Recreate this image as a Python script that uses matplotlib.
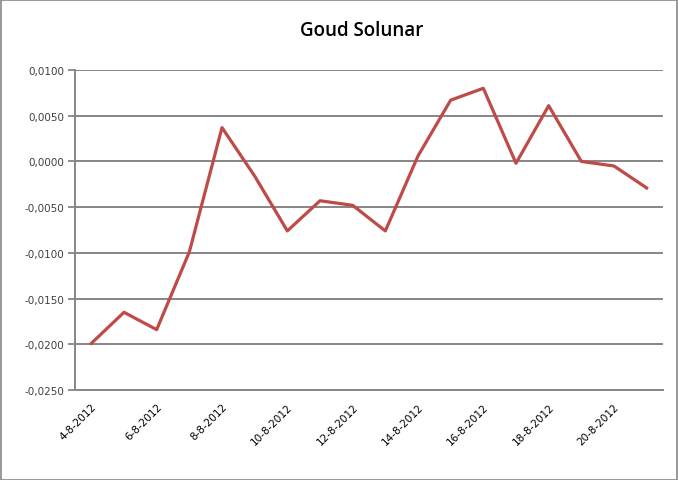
import matplotlib.pyplot as plt
from matplotlib.patches import Rectangle
from matplotlib.ticker import FuncFormatter
import numpy as np

# daily values, 4-8-2012 .. 21-8-2012
dates = ["%d-8-2012" % d for d in range(4, 22)]
values = [-0.0199, -0.0165, -0.0184, -0.0099, 0.0037, -0.0016,
          -0.0076, -0.0043, -0.0048, -0.0076, 0.0006, 0.0067,
          0.0080, -0.0002, 0.0061, 0.0000, -0.0005, -0.0029]
yticks = [-0.025, -0.02, -0.015, -0.01, -0.005, 0.0, 0.005, 0.01]
title = "Goud Solunar"

grey = "#868686"
red = "#BE4B48"

fig = plt.figure(figsize=(6.78, 4.81), dpi=100)
ax = fig.add_axes([75 / 678, 1 - 391 / 481, 588 / 678, 320 / 481])

x = np.arange(len(dates))
ax.plot(x, values, color=red, lw=2.3, solid_joinstyle="round", zorder=3)

ax.set_xlim(-0.5, len(dates) - 0.5)
ax.set_ylim(yticks[0], yticks[-1])
ax.set_yticks(yticks)
ax.yaxis.set_major_formatter(FuncFormatter(lambda v, p: ("%.4f" % v).replace(".", ",").replace("-0,0000", "0,0000")))
ax.set_xticks(x[::2])
ax.set_xticklabels(dates[::2], rotation=45, ha="right", rotation_mode="anchor", fontsize=7.5)
ax.tick_params(axis="x", length=0, pad=8)
ax.tick_params(axis="y", length=5, width=1.3, color=grey, labelsize=7.5, labelcolor="#404040", pad=3)

ax.grid(axis="y", color=grey, lw=1.4)
ax.set_axisbelow(True)
for side in ["top", "right"]:
    ax.spines[side].set_visible(False)
for side in ["left", "bottom"]:
    ax.spines[side].set_color(grey)
    ax.spines[side].set_linewidth(1.4)

fig.text(362 / 678, 1 - 31 / 481, title, ha="center", va="center", fontsize=13.5, fontweight="semibold", family="Open Sans")

fig.patches.append(Rectangle((0.5 / 678, 0.5 / 481), 676.5 / 678, 479.5 / 481, transform=fig.transFigure,
                             fill=False, edgecolor=grey, lw=1.2))

fig.savefig("out.png", dpi=100)
